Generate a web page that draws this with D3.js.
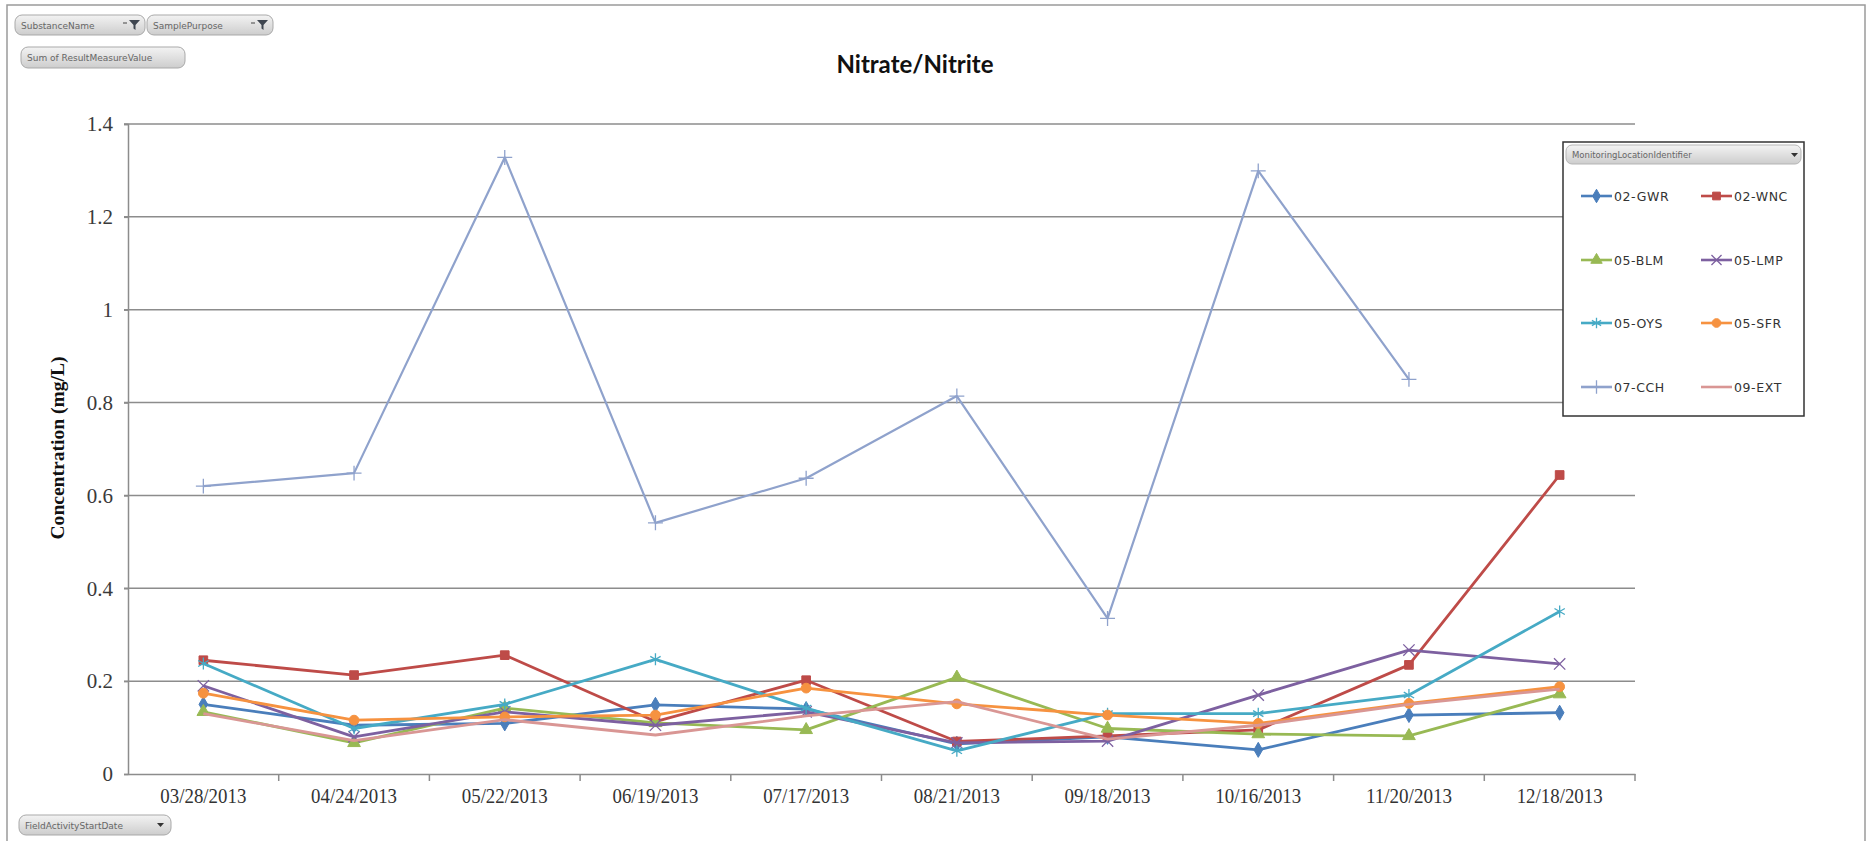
<!DOCTYPE html>
<html>
<head>
<meta charset="utf-8">
<script src="https://cdn.jsdelivr.net/npm/d3@7"></script>
<style>
  body { margin: 0; background: #fff; }
  svg { display: block; }
</style>
</head>
<body>
<div id="chart"></div>
<script>
// sample dates on the x axis
const dates = ["03/28/2013", "04/24/2013", "05/22/2013", "06/19/2013", "07/17/2013",
               "08/21/2013", "09/18/2013", "10/16/2013", "11/20/2013", "12/18/2013"];

// nitrate/nitrite concentration (mg/L) per monitoring location
const gwr = [0.150, 0.105, 0.109, 0.149, 0.140, 0.065, 0.080, 0.052, 0.127, 0.132];
const wnc = [0.245, 0.213, 0.256, 0.113, 0.202, 0.070, 0.082, 0.095, 0.235, 0.644];
const blm = [0.134, 0.067, 0.142, 0.110, 0.095, 0.208, 0.098, 0.086, 0.082, 0.172];
const lmp = [0.190, 0.080, 0.134, 0.105, 0.134, 0.067, 0.071, 0.170, 0.267, 0.237];
const oys = [0.238, 0.098, 0.150, 0.247, 0.142, 0.050, 0.130, 0.130, 0.170, 0.350];
const sfr = [0.174, 0.116, 0.123, 0.127, 0.185, 0.151, 0.127, 0.109, 0.152, 0.188];
const cch = [0.620, 0.648, 1.328, 0.541, 0.637, 0.814, 0.335, 1.299, 0.850, null];
const ext = [0.130, 0.072, 0.117, 0.084, 0.125, 0.156, 0.075, 0.105, 0.150, 0.183];

const siteNames = ["02-GWR", "02-WNC", "05-BLM", "05-LMP", "05-OYS", "05-SFR", "07-CCH", "09-EXT"];
const yTicks = [0, 0.2, 0.4, 0.6, 0.8, 1, 1.2, 1.4];

/** series styling (Excel 2007 default palette) */
const series = [
  { name: siteNames[0], values: gwr, color: "#4a7ebb", marker: "diamond" },
  { name: siteNames[1], values: wnc, color: "#be4b48", marker: "square" },
  { name: siteNames[2], values: blm, color: "#98b954", marker: "triangle" },
  { name: siteNames[3], values: lmp, color: "#7d60a0", marker: "x" },
  { name: siteNames[4], values: oys, color: "#46aac5", marker: "asterisk" },
  { name: siteNames[5], values: sfr, color: "#f69240", marker: "circle" },
  { name: siteNames[6], values: cch, color: "#8fa2cc", marker: "plus" },
  { name: siteNames[7], values: ext, color: "#d99694", marker: "none" }
];

const W = 1872, H = 841;
const plot = { left: 128, right: 1635, top: 124, bottom: 774 };

const svg = d3.select("#chart").append("svg")
  .attr("width", W)
  .attr("height", H);

const defs = svg.append("defs");
const grad = defs.append("linearGradient")
  .attr("id", "btn")
  .attr("x1", 0).attr("y1", 0).attr("x2", 0).attr("y2", 1);
grad.append("stop").attr("offset", "0%").attr("stop-color", "#f3f3f3");
grad.append("stop").attr("offset", "100%").attr("stop-color", "#cdcdcd");

// outer frame
svg.append("rect")
  .attr("x", 7).attr("y", 5)
  .attr("width", 1858).attr("height", 860)
  .attr("fill", "none")
  .attr("stroke", "#9a9a9a")
  .attr("stroke-width", 1.5);

/** scales */
const x = d3.scaleBand()
  .domain(dates)
  .range([plot.left, plot.right]);

const y = d3.scaleLinear()
  .domain([0, 1.4])
  .range([plot.bottom, plot.top]);

const cx = d => x(d) + x.bandwidth() / 2;

// gridlines
svg.append("g")
  .attr("id", "grid")
  .selectAll("line")
  .data(yTicks.filter(t => t > 0))
  .enter()
  .append("line")
  .attr("x1", plot.left - 4)
  .attr("x2", plot.right)
  .attr("y1", d => y(d))
  .attr("y2", d => y(d))
  .attr("stroke", "#8c8c8c")
  .attr("stroke-width", 1.5);

// y axis
const yAxis = svg.append("g")
  .attr("id", "y-axis")
  .attr("transform", "translate(" + plot.left + ",0)")
  .call(d3.axisLeft(y).tickValues(yTicks).tickSize(4).tickPadding(11).tickFormat(d3.format("~g")));
yAxis.select(".domain").attr("stroke", "#8c8c8c").attr("stroke-width", 1.5);
yAxis.selectAll(".tick line").attr("stroke", "#8c8c8c").attr("stroke-width", 1.5);
yAxis.selectAll(".tick text")
  .attr("fill", "#3a3a3a")
  .style("font-family", "'Liberation Serif', 'Times New Roman', serif")
  .style("font-size", "21px");

// x axis: labels at band centres, ticks at band boundaries
const xAxis = svg.append("g")
  .attr("id", "x-axis")
  .attr("transform", "translate(0," + plot.bottom + ")")
  .call(d3.axisBottom(x).tickSize(0).tickPadding(14));
xAxis.select(".domain").attr("stroke", "#8c8c8c").attr("stroke-width", 1.5);
xAxis.selectAll(".tick text")
  .attr("fill", "#333")
  .style("font-family", "'Liberation Serif', 'Times New Roman', serif")
  .style("font-size", "21px")
  .attr("textLength", 86)
  .attr("lengthAdjust", "spacingAndGlyphs");

xAxis.selectAll("line.bound")
  .data(dates.map(d => x(d)).concat([plot.right]).slice(1))
  .enter()
  .append("line")
  .attr("class", "bound")
  .attr("x1", d => d).attr("x2", d => d)
  .attr("y1", 0).attr("y2", 7)
  .attr("stroke", "#8c8c8c")
  .attr("stroke-width", 1.5);

/** markers */
function marker(sel, type, color, k) {
  k = k || 1;
  const sym = {
    diamond: [d3.symbolDiamond, 65, true],
    square: [d3.symbolSquare, 75, true],
    triangle: [d3.symbolTriangle, 70, true],
    circle: [d3.symbolCircle, 75, true],
    x: [d3.symbolX, 85, false],
    asterisk: [d3.symbolAsterisk, 100, false],
    plus: [d3.symbolPlus, 75, false]
  }[type];
  if (!sym) return;
  sel.append("path")
    .attr("d", d3.symbol().type(sym[0]).size(sym[1] * k)())
    .attr("fill", sym[2] ? color : "none")
    .attr("stroke", color)
    .attr("stroke-width", sym[2] ? 1 : 1.3);
}

const line = d3.line()
  .defined(d => d.v != null)
  .x(d => cx(d.date))
  .y(d => y(d.v));

const seriesG = svg.append("g").attr("id", "series");
series.forEach(s => {
  const pts = dates.map((d, i) => ({ date: d, v: s.values[i] }));
  const g = seriesG.append("g");
  g.append("path")
    .datum(pts)
    .attr("d", line)
    .attr("fill", "none")
    .attr("stroke", s.color)
    .attr("stroke-width", s.name === "07-CCH" ? 2.2 : 2.8)
    .attr("stroke-linejoin", "round");
  g.selectAll("g.pt")
    .data(pts.filter(p => p.v != null))
    .enter()
    .append("g")
    .attr("class", "pt")
    .attr("transform", p => "translate(" + cx(p.date) + "," + y(p.v) + ")")
    .each(function() { marker(d3.select(this), s.marker, s.color); });
});

// title
svg.append("text")
  .attr("x", 915)
  .attr("y", 73)
  .attr("text-anchor", "middle")
  .style("font-family", "Lato, 'Open Sans', sans-serif")
  .style("font-weight", "bold")
  .style("font-size", "24px")
  .attr("fill", "#111")
  .text("Nitrate/Nitrite");

// y axis title
svg.append("text")
  .attr("transform", "translate(64,448) rotate(-90)")
  .attr("text-anchor", "middle")
  .style("font-family", "'Liberation Serif', 'Times New Roman', serif")
  .style("font-weight", "bold")
  .style("font-size", "18px")
  .attr("textLength", 183)
  .attr("lengthAdjust", "spacingAndGlyphs")
  .attr("fill", "#111")
  .text("Concentration (mg/L)");

/** pivot field buttons */
function fieldButton(bx, by, bw, bh, label, icon) {
  const g = svg.append("g").attr("transform", "translate(" + bx + "," + by + ")");
  g.append("rect")
    .attr("width", bw).attr("height", bh)
    .attr("rx", 7).attr("ry", 7)
    .attr("fill", "url(#btn)")
    .attr("stroke", "#a9a9a9");
  g.append("text")
    .attr("x", 6).attr("y", bh / 2 + 3.5)
    .style("font-family", "'DejaVu Sans', sans-serif")
    .style("font-size", "9px")
    .attr("fill", "#666")
    .text(label);
  if (icon === "filter") {
    const ix = bw - 22, iy = bh / 2 - 5;
    g.append("path")
      .attr("d", "M" + ix + "," + (iy + 3) + "h4")
      .attr("stroke", "#444");
    g.append("path")
      .attr("d", "M" + (ix + 6) + "," + iy + "h11l-4.5,5v5l-2,-1.5v-3.5z")
      .attr("fill", "#3f4650");
  } else if (icon === "drop") {
    const ix = bw - 14, iy = bh / 2 - 2;
    g.append("path")
      .attr("d", "M" + ix + "," + iy + "h7l-3.5,4z")
      .attr("fill", "#333");
  }
  return g;
}

fieldButton(15, 15, 130, 20, "SubstanceName", "filter");
fieldButton(147, 15, 126, 20, "SamplePurpose", "filter");
fieldButton(21, 47, 164, 21, "Sum of ResultMeasureValue", null);
fieldButton(19, 815, 152, 20, "FieldActivityStartDate", "drop");

/** legend */
const legend = svg.append("g").attr("id", "legend");
legend.append("rect")
  .attr("x", 1563).attr("y", 142)
  .attr("width", 241).attr("height", 274)
  .attr("fill", "#fff")
  .attr("stroke", "#333")
  .attr("stroke-width", 1.5);

const hdr = svg.append("g").attr("transform", "translate(1566,145)");
hdr.append("rect")
  .attr("width", 235).attr("height", 19)
  .attr("rx", 6).attr("ry", 6)
  .attr("fill", "url(#btn)")
  .attr("stroke", "#b5b5b5");
hdr.append("text")
  .attr("x", 6).attr("y", 13)
  .style("font-family", "'DejaVu Sans', sans-serif")
  .style("font-size", "8.5px")
  .attr("fill", "#666")
  .text("MonitoringLocationIdentifier");
hdr.append("path")
  .attr("d", "M225,8h7l-3.5,4z")
  .attr("fill", "#333");

const rowY = [196, 260, 323, 387];
const colX = [1581, 1701];
const item = legend.selectAll("g.item")
  .data(series)
  .enter()
  .append("g")
  .attr("class", "item")
  .attr("transform", (d, i) => "translate(" + colX[i % 2] + "," + rowY[Math.floor(i / 2)] + ")");

item.append("line")
  .attr("x1", 0).attr("x2", 31)
  .attr("stroke", d => d.color)
  .attr("stroke-width", 2.6);
item.append("g")
  .attr("transform", "translate(15.5,0)")
  .each(function(d) { marker(d3.select(this), d.marker, d.color, 0.8); });
item.append("text")
  .attr("x", 33).attr("y", 4.5)
  .style("font-family", "'DejaVu Sans', sans-serif")
  .style("font-size", "12.5px")
  .style("letter-spacing", "0.6px")
  .attr("fill", "#333")
  .text(d => d.name);
</script>
</body>
</html>
